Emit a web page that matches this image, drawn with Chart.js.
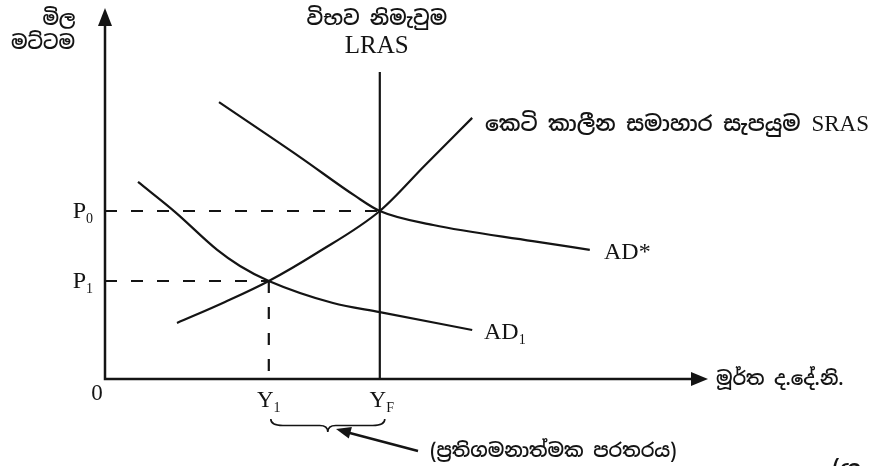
<!DOCTYPE html>
<html>
<head>
<meta charset="utf-8">
<script src="https://cdn.jsdelivr.net/npm/chart.js@4.4.0/dist/chart.umd.min.js"></script>
<style>
  html,body{margin:0;padding:0;background:#fff}
  #wrap{width:874px;height:466px}
</style>
</head>
<body>
<div id="wrap"><canvas id="c" width="874" height="466"></canvas></div>
<script>
// ============================================================
// AD / AS diagram — recessionary gap
// x = real output, y = price level, both on a 0..100 scale
// ============================================================

const srasX = [12.0, 20.0, 27.3, 35.3, 45.8, 53.3, 61.2];
const srasY = [16.0, 22.0, 28.0, 36.0, 48.0, 61.0, 74.6];

const adStarX = [19.0, 32.5, 41.7, 45.8, 54.7, 71.3, 80.8];
const adStarY = [79.1, 63.4, 52.3, 48.0, 44.0, 39.4, 36.9];

const ad1X = [5.5, 11.7, 18.7, 22.5, 27.3, 38.0, 45.8, 61.2];
const ad1Y = [56.3, 47.7, 36.9, 32.3, 28.0, 21.7, 19.1, 14.0];

const P0 = 48, P1 = 28;        // price levels
const Y1 = 27.3, YF = 45.8;    // output levels
const lrasTop = 87.7;

const pts = (xs, ys) => xs.map((x,i)=>({x, y:ys[i]}));
const INK = '#141414';
const SI  = '"Noto Sans Sinhala","Noto Serif Sinhala","Noto Sans",sans-serif';
const SERIF = '"Liberation Serif","DejaVu Serif",serif';
const SW = '600';   // weight of the Sinhala labels

function line(data, dash){
  return {
    data, showLine:true, pointRadius:0, borderColor:INK, borderWidth:2.2,
    borderDash: dash||[], cubicInterpolationMode: dash ? 'default' : 'monotone',
    tension: 0, fill:false
  };
}

// text with a subscript, e.g. P0, AD1
function subText(ctx, main, sub, x, y, size, align){
  ctx.font = `${size}px ${SERIF}`;
  const w1 = ctx.measureText(main).width;
  ctx.font = `${Math.round(size*0.6)}px ${SERIF}`;
  const w2 = ctx.measureText(sub).width;
  let x0 = x;
  if(align==='center') x0 = x - (w1+w2)/2;
  if(align==='right')  x0 = x - (w1+w2);
  ctx.textAlign = 'left';
  ctx.textBaseline = 'middle';
  ctx.font = `${size}px ${SERIF}`;
  ctx.fillText(main, x0, y);
  ctx.font = `${Math.round(size*0.6)}px ${SERIF}`;
  ctx.fillText(sub, x0+w1, y+size*0.3);
}

function txt(ctx, s, x, y, font, align){
  ctx.font = font;
  ctx.textAlign = align||'left';
  ctx.textBaseline = 'middle';
  ctx.fillText(s, x, y);
}

const diagram = {
  id:'diagram',
  afterDraw(chart){
    const ctx = chart.ctx, a = chart.chartArea;
    const sx = chart.scales.x, sy = chart.scales.y;
    ctx.save();
    ctx.strokeStyle = INK; ctx.fillStyle = INK;

    // axes
    ctx.lineWidth = 2.5;
    ctx.beginPath();
    ctx.moveTo(a.left, 22); ctx.lineTo(a.left, a.bottom); ctx.lineTo(a.right-10, a.bottom);
    ctx.stroke();
    ctx.beginPath();   // y arrow
    ctx.moveTo(a.left, 8); ctx.lineTo(a.left-7, 26); ctx.lineTo(a.left+7, 26); ctx.closePath(); ctx.fill();
    ctx.beginPath();   // x arrow
    ctx.moveTo(a.right+3, a.bottom); ctx.lineTo(a.right-14, a.bottom-7); ctx.lineTo(a.right-14, a.bottom+7); ctx.closePath(); ctx.fill();

    // axis titles
    txt(ctx, 'මිල', 59, 20, `${SW} 19px ${SI}`, 'center');
    txt(ctx, 'මට්ටම', 43, 44, `${SW} 19px ${SI}`, 'center');
    txt(ctx, 'මූර්ත ද.දේ.නි.', 716, a.bottom+1, `${SW} 19px ${SI}`);
    txt(ctx, '0', 97, a.bottom+15, `23px ${SERIF}`, 'center');

    // top labels for LRAS
    const xF = sx.getPixelForValue(YF), x1 = sx.getPixelForValue(Y1);
    txt(ctx, 'විභව නිමැවුම', xF-3, 19, `${SW} 20px ${SI}`, 'center');
    txt(ctx, 'LRAS', xF-3, 46, `25px ${SERIF}`, 'center');

    // curve labels
    const sLast = sy.getPixelForValue(srasY[srasY.length-1]);
    txt(ctx, 'කෙටි කාලීන සමාහාර සැපයුම', 485, sLast+7, `${SW} 21px ${SI}`);
    txt(ctx, 'SRAS', 869, sLast+7, `23px ${SERIF}`, 'right');
    txt(ctx, 'AD*', 604, sy.getPixelForValue(adStarY[adStarY.length-1])+3, `24px ${SERIF}`);
    subText(ctx, 'AD', '1', 484, sy.getPixelForValue(ad1Y[ad1Y.length-1])+3, 24, 'left');

    // price and output labels
    subText(ctx, 'P', '0', 93, sy.getPixelForValue(P0)+1, 24, 'right');
    subText(ctx, 'P', '1', 93, sy.getPixelForValue(P1)+1, 24, 'right');
    subText(ctx, 'Y', '1', x1, a.bottom+22, 23, 'center');
    subText(ctx, 'Y', 'F', xF+2, a.bottom+22, 23, 'center');

    // brace under Y1..YF
    const bl = x1+2, br = xF+5, mid = (bl+br)/2, top = a.bottom+40, d = 13;
    ctx.lineWidth = 1.6;
    ctx.beginPath();
    ctx.moveTo(bl, top);
    ctx.quadraticCurveTo(bl, top+d/2, bl+12, top+d/2);
    ctx.lineTo(mid-8, top+d/2);
    ctx.quadraticCurveTo(mid, top+d/2, mid, top+d);
    ctx.quadraticCurveTo(mid, top+d/2, mid+8, top+d/2);
    ctx.lineTo(br-12, top+d/2);
    ctx.quadraticCurveTo(br, top+d/2, br, top);
    ctx.stroke();

    // arrow pointing at the gap
    const tx = 336, ty = 429, fx = 418, fy = 451;
    ctx.lineWidth = 2.5;
    ctx.beginPath(); ctx.moveTo(fx, fy); ctx.lineTo(tx+10, ty+3); ctx.stroke();
    const ang = Math.atan2(ty-fy, tx-fx);
    ctx.beginPath();
    ctx.moveTo(tx, ty);
    ctx.lineTo(tx - 16*Math.cos(ang-0.38), ty - 16*Math.sin(ang-0.38));
    ctx.lineTo(tx - 16*Math.cos(ang+0.38), ty - 16*Math.sin(ang+0.38));
    ctx.closePath(); ctx.fill();

    txt(ctx, '(ප්‍රතිගමනාත්මක පරතරය)', 430, 452, `${SW} 19px ${SI}`);
    txt(ctx, '(ශ', 832, 471, `${SW} 23px ${SI}`);
    ctx.restore();
  }
};

new Chart(document.getElementById('c'), {
  type:'scatter',
  data:{
    datasets:[
      line(pts(srasX, srasY)),
      line(pts(adStarX, adStarY)),
      line(pts(ad1X, ad1Y)),
      line([{x:YF,y:0},{x:YF,y:lrasTop}]),
      line([{x:0,y:P0},{x:YF,y:P0}], [12,14]),
      line([{x:0,y:P1},{x:Y1,y:P1}], [12,14]),
      line([{x:Y1,y:P1},{x:Y1,y:0}], [12,14])
    ]
  },
  options:{
    responsive:false, animation:false, devicePixelRatio:1,
    layout:{padding:{left:105, right:169, top:29, bottom:87}},
    scales:{
      x:{type:'linear', min:0, max:100, display:false},
      y:{type:'linear', min:0, max:100, display:false}
    },
    plugins:{legend:{display:false}, tooltip:{enabled:false}},
    clip:false
  },
  plugins:[diagram]
});
</script>
</body>
</html>
